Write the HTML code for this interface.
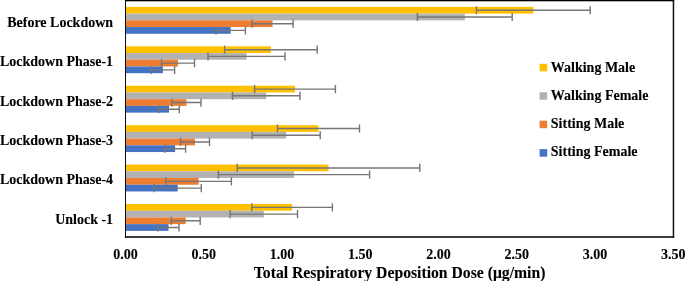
<!DOCTYPE html>
<html><head><meta charset="utf-8"><style>
html,body{margin:0;padding:0;background:#fff;}
body{width:685px;height:281px;overflow:hidden;}
svg{display:block;will-change:transform;}
text{font-family:"Liberation Serif",serif;font-weight:bold;font-size:14px;fill:#000;stroke:#000;stroke-width:0.1px;}
</style></head><body>
<svg width="685" height="281" viewBox="0 0 685 281">
<rect width="685" height="281" fill="#fff"/>
<g><rect x="125.20" y="6.90" width="408.10" height="6.72" fill="#FFC000"/><rect x="125.20" y="13.62" width="339.60" height="6.72" fill="#B2B2B2"/><rect x="125.20" y="20.34" width="147.40" height="6.72" fill="#ED7D31"/><rect x="125.20" y="27.06" width="105.50" height="6.72" fill="#4472C4"/><rect x="125.20" y="46.32" width="145.70" height="6.72" fill="#FFC000"/><rect x="125.20" y="53.04" width="121.30" height="6.72" fill="#B2B2B2"/><rect x="125.20" y="59.76" width="52.80" height="6.72" fill="#ED7D31"/><rect x="125.20" y="66.48" width="37.70" height="6.72" fill="#4472C4"/><rect x="125.20" y="85.74" width="169.80" height="6.72" fill="#FFC000"/><rect x="125.20" y="92.46" width="141.00" height="6.72" fill="#B2B2B2"/><rect x="125.20" y="99.18" width="61.30" height="6.72" fill="#ED7D31"/><rect x="125.20" y="105.90" width="43.80" height="6.72" fill="#4472C4"/><rect x="125.20" y="125.16" width="193.30" height="6.72" fill="#FFC000"/><rect x="125.20" y="131.88" width="161.00" height="6.72" fill="#B2B2B2"/><rect x="125.20" y="138.60" width="69.80" height="6.72" fill="#ED7D31"/><rect x="125.20" y="145.32" width="49.90" height="6.72" fill="#4472C4"/><rect x="125.20" y="164.58" width="203.30" height="6.72" fill="#FFC000"/><rect x="125.20" y="171.30" width="168.80" height="6.72" fill="#B2B2B2"/><rect x="125.20" y="178.02" width="73.40" height="6.72" fill="#ED7D31"/><rect x="125.20" y="184.74" width="52.50" height="6.72" fill="#4472C4"/><rect x="125.20" y="204.00" width="166.90" height="6.72" fill="#FFC000"/><rect x="125.20" y="210.72" width="138.60" height="6.72" fill="#B2B2B2"/><rect x="125.20" y="217.44" width="60.50" height="6.72" fill="#ED7D31"/><rect x="125.20" y="224.16" width="43.30" height="6.72" fill="#4472C4"/></g>
<g stroke="#767676" stroke-width="1.4" fill="none"><path d="M476.40 10.26H590.20M476.40 6.16V14.36M590.20 6.16V14.36"/><path d="M417.40 16.98H512.20M417.40 12.88V21.08M512.20 12.88V21.08"/><path d="M252.10 23.70H293.10M252.10 19.60V27.80M293.10 19.60V27.80"/><path d="M216.00 30.42H245.40M216.00 26.32V34.52M245.40 26.32V34.52"/><path d="M224.60 49.68H317.20M224.60 45.58V53.78M317.20 45.58V53.78"/><path d="M208.00 56.40H285.00M208.00 52.30V60.50M285.00 52.30V60.50"/><path d="M161.50 63.12H194.50M161.50 59.02V67.22M194.50 59.02V67.22"/><path d="M151.20 69.84H174.60M151.20 65.74V73.94M174.60 65.74V73.94"/><path d="M254.60 89.10H335.40M254.60 85.00V93.20M335.40 85.00V93.20"/><path d="M232.50 95.82H299.90M232.50 91.72V99.92M299.90 91.72V99.92"/><path d="M172.00 102.54H201.00M172.00 98.44V106.64M201.00 98.44V106.64"/><path d="M158.70 109.26H179.30M158.70 105.16V113.36M179.30 105.16V113.36"/><path d="M277.50 128.52H359.50M277.50 124.42V132.62M359.50 124.42V132.62"/><path d="M252.20 135.24H320.20M252.20 131.14V139.34M320.20 131.14V139.34"/><path d="M180.50 141.96H209.50M180.50 137.86V146.06M209.50 137.86V146.06"/><path d="M164.60 148.68H185.60M164.60 144.58V152.78M185.60 144.58V152.78"/><path d="M237.20 167.94H419.80M237.20 163.84V172.04M419.80 163.84V172.04"/><path d="M218.40 174.66H369.60M218.40 170.56V178.76M369.60 170.56V178.76"/><path d="M165.80 181.38H231.40M165.80 177.28V185.48M231.40 177.28V185.48"/><path d="M154.10 188.10H201.30M154.10 184.00V192.20M201.30 184.00V192.20"/><path d="M251.80 207.36H332.40M251.80 203.26V211.46M332.40 203.26V211.46"/><path d="M230.10 214.08H297.50M230.10 209.98V218.18M297.50 209.98V218.18"/><path d="M171.20 220.80H200.20M171.20 216.70V224.90M200.20 216.70V224.90"/><path d="M158.00 227.52H179.00M158.00 223.42V231.62M179.00 223.42V231.62"/></g>
<rect x="124.9" y="0" width="549.3" height="1.3" fill="#000"/><rect x="672.7" y="0" width="1.5" height="238" fill="#111"/><rect x="124.9" y="236.15" width="549.3" height="1.7" fill="#1a1a1a"/><rect x="125.0" y="0" width="0.95" height="238" fill="#000"/>
<g><text x="113.1" y="26.70" text-anchor="end">Before Lockdown</text><text x="113.1" y="66.12" text-anchor="end">Lockdown Phase-1</text><text x="113.1" y="105.54" text-anchor="end">Lockdown Phase-2</text><text x="113.1" y="144.96" text-anchor="end">Lockdown Phase-3</text><text x="113.1" y="184.38" text-anchor="end">Lockdown Phase-4</text><text x="113.1" y="223.80" text-anchor="end">Unlock -1</text></g>
<g><text x="125.50" y="259.1" text-anchor="middle">0.00</text><text x="203.75" y="259.1" text-anchor="middle">0.50</text><text x="282.00" y="259.1" text-anchor="middle">1.00</text><text x="360.25" y="259.1" text-anchor="middle">1.50</text><text x="438.50" y="259.1" text-anchor="middle">2.00</text><text x="516.75" y="259.1" text-anchor="middle">2.50</text><text x="595.00" y="259.1" text-anchor="middle">3.00</text><text x="673.25" y="259.1" text-anchor="middle">3.50</text></g>
<g><rect x="539.6" y="63.80" width="7.6" height="7.5" fill="#FFC000"/><text x="550.8" y="71.6">Walking Male</text><rect x="539.6" y="92.25" width="7.6" height="7.5" fill="#B2B2B2"/><text x="550.8" y="100">Walking Female</text><rect x="539.6" y="120.70" width="7.6" height="7.5" fill="#ED7D31"/><text x="550.8" y="128">Sitting Male</text><rect x="539.6" y="149.15" width="7.6" height="7.5" fill="#4472C4"/><text x="550.8" y="156.2">Sitting Female</text></g>
<text x="399.6" y="277.9" text-anchor="middle" style="font-size:15.7px">Total Respiratory Deposition Dose (μg/min)</text>
</svg>
</body></html>
